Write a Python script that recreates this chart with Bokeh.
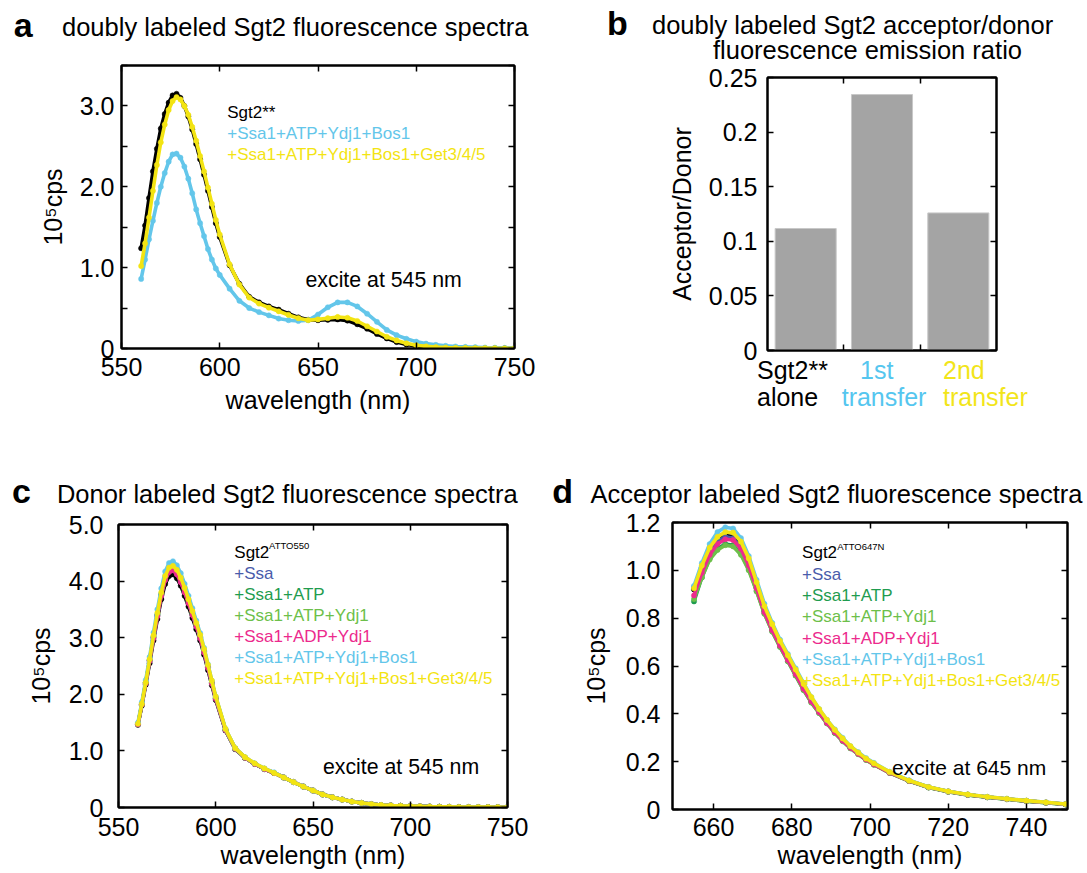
from bokeh.plotting import figure
from bokeh.layouts import column, row
from bokeh.models import FixedTicker, LinearAxis, Label, CustomJSTickFormatter, Range1d, Div
from bokeh.embed import file_html
from bokeh.resources import INLINE

FONT = "Liberation Sans"

# ---------------- data ----------------
# panel a: doubly labeled Sgt2 spectra (10^5 cps)
WL_A = [560, 562, 564, 566, 568, 570, 572, 574, 576, 578, 580, 582, 584, 586, 588, 590, 592, 594, 596, 598, 600,
        605, 610, 615, 620, 625, 630, 635, 640, 645, 650, 655, 660, 665, 670, 675, 680, 685, 690, 695, 700,
        705, 710, 715, 720, 725, 730, 735, 740, 745, 750]
A_SGT2 = [1.24, 1.52, 1.86, 2.19, 2.47, 2.72, 2.90, 3.04, 3.13, 3.15, 3.10, 3.00, 2.87, 2.71, 2.53, 2.34, 2.15, 1.95, 1.75, 1.55, 1.38,
          1.03, 0.80, 0.64, 0.57, 0.52, 0.48, 0.43, 0.385, 0.355, 0.35, 0.355, 0.36, 0.345, 0.30, 0.245, 0.18, 0.125, 0.08, 0.05, 0.03,
          0.02, 0.012, 0.008, 0.006, 0.005, 0.004, 0.003, 0.003, 0.002, 0.002]
A_BOS1 = [0.86, 1.10, 1.35, 1.58, 1.80, 2.00, 2.17, 2.31, 2.40, 2.41, 2.36, 2.25, 2.10, 1.92, 1.72, 1.55, 1.39, 1.23, 1.10, 0.99, 0.91,
          0.74, 0.59, 0.50, 0.45, 0.41, 0.37, 0.35, 0.34, 0.35, 0.42, 0.51, 0.57, 0.57, 0.52, 0.43, 0.33, 0.23, 0.165, 0.12, 0.085,
          0.06, 0.045, 0.033, 0.025, 0.02, 0.016, 0.012, 0.01, 0.008, 0.006]
A_GET = [1.02, 1.30, 1.62, 1.95, 2.27, 2.55, 2.77, 2.95, 3.06, 3.11, 3.08, 3.00, 2.89, 2.74, 2.57, 2.38, 2.19, 1.99, 1.79, 1.59, 1.41,
         1.04, 0.79, 0.63, 0.555, 0.505, 0.46, 0.415, 0.375, 0.35, 0.36, 0.375, 0.39, 0.38, 0.34, 0.275, 0.21, 0.145, 0.10, 0.065, 0.04,
         0.026, 0.018, 0.012, 0.009, 0.007, 0.006, 0.005, 0.004, 0.003, 0.003]
A_NAMES = ["Sgt2**", "+Ssa1+ATP+Ydj1+Bos1", "+Ssa1+ATP+Ydj1+Bos1+Get3/4/5"]

# panel b: acceptor/donor ratio
B_CATS = [("Sgt2**", "alone"), ("1st", "transfer"), ("2nd", "transfer")]
B_RATIO = [0.1117, 0.2344, 0.1260]

# panel c: donor labeled Sgt2 (10^5 cps), same wavelength grid as panel a
WL_C = WL_A
C_NAMES = ["Sgt2", "+Ssa", "+Ssa1+ATP", "+Ssa1+ATP+Ydj1", "+Ssa1+ADP+Ydj1", "+Ssa1+ATP+Ydj1+Bos1", "+Ssa1+ATP+Ydj1+Bos1+Get3/4/5"]
C_SGT2 = [1.46, 1.80, 2.17, 2.55, 2.95, 3.33, 3.68, 3.95, 4.09, 4.12, 4.05, 3.92, 3.74, 3.55, 3.35, 3.15, 2.95, 2.70, 2.43, 2.16, 1.90,
          1.36, 1.03, 0.88, 0.77, 0.68, 0.61, 0.53, 0.45, 0.37, 0.30, 0.23, 0.18, 0.14, 0.105, 0.08, 0.06, 0.045, 0.036, 0.03, 0.025,
          0.02, 0.016, 0.013, 0.011, 0.009, 0.008, 0.007, 0.006, 0.005, 0.004]
C_SSA = [1.47, 1.82, 2.20, 2.59, 3.00, 3.39, 3.75, 4.03, 4.17, 4.20, 4.13, 3.99, 3.81, 3.62, 3.41, 3.21, 3.00, 2.75, 2.47, 2.20, 1.93,
         1.37, 1.04, 0.88, 0.77, 0.68, 0.61, 0.53, 0.45, 0.37, 0.30, 0.23, 0.18, 0.14, 0.105, 0.08, 0.06, 0.045, 0.036, 0.03, 0.025,
         0.02, 0.016, 0.013, 0.011, 0.009, 0.008, 0.007, 0.006, 0.005, 0.004]
C_ATP = [1.47, 1.82, 2.20, 2.60, 3.01, 3.40, 3.76, 4.04, 4.18, 4.21, 4.14, 4.00, 3.82, 3.63, 3.42, 3.22, 3.01, 2.76, 2.48, 2.20, 1.93,
         1.37, 1.04, 0.88, 0.77, 0.68, 0.61, 0.53, 0.45, 0.37, 0.30, 0.23, 0.18, 0.14, 0.105, 0.08, 0.06, 0.045, 0.036, 0.03, 0.025,
         0.02, 0.016, 0.013, 0.011, 0.009, 0.008, 0.007, 0.006, 0.005, 0.004]
C_YDJ = [1.48, 1.83, 2.21, 2.61, 3.02, 3.41, 3.77, 4.05, 4.19, 4.22, 4.15, 4.01, 3.83, 3.64, 3.43, 3.23, 3.02, 2.77, 2.49, 2.21, 1.94,
         1.38, 1.04, 0.88, 0.77, 0.68, 0.61, 0.53, 0.45, 0.37, 0.30, 0.23, 0.18, 0.14, 0.105, 0.08, 0.06, 0.045, 0.036, 0.03, 0.025,
         0.02, 0.016, 0.013, 0.011, 0.009, 0.008, 0.007, 0.006, 0.005, 0.004]
C_ADP = [1.47, 1.82, 2.19, 2.59, 2.99, 3.38, 3.74, 4.02, 4.16, 4.19, 4.12, 3.98, 3.80, 3.61, 3.40, 3.20, 2.99, 2.74, 2.47, 2.19, 1.92,
         1.37, 1.04, 0.88, 0.77, 0.68, 0.61, 0.53, 0.45, 0.37, 0.30, 0.23, 0.18, 0.14, 0.105, 0.08, 0.06, 0.045, 0.036, 0.03, 0.025,
         0.02, 0.016, 0.013, 0.011, 0.009, 0.008, 0.007, 0.006, 0.005, 0.004]
C_BOS1 = [1.50, 1.86, 2.25, 2.66, 3.09, 3.50, 3.87, 4.17, 4.32, 4.35, 4.28, 4.14, 3.95, 3.74, 3.52, 3.30, 3.08, 2.82, 2.53, 2.24, 1.96,
          1.39, 1.05, 0.89, 0.78, 0.69, 0.62, 0.53, 0.45, 0.37, 0.30, 0.23, 0.18, 0.14, 0.105, 0.08, 0.06, 0.045, 0.036, 0.03, 0.025,
          0.02, 0.016, 0.013, 0.011, 0.009, 0.008, 0.007, 0.006, 0.005, 0.004]
C_GET = [1.48, 1.83, 2.21, 2.62, 3.04, 3.44, 3.80, 4.09, 4.24, 4.27, 4.20, 4.06, 3.88, 3.68, 3.47, 3.26, 3.05, 2.80, 2.52, 2.24, 1.96,
         1.39, 1.05, 0.89, 0.78, 0.69, 0.61, 0.53, 0.45, 0.37, 0.30, 0.23, 0.18, 0.14, 0.105, 0.08, 0.06, 0.045, 0.036, 0.03, 0.025,
         0.02, 0.016, 0.013, 0.011, 0.009, 0.008, 0.007, 0.006, 0.005, 0.004]

# panel d: acceptor labeled Sgt2 (10^5 cps)
WL_D = [655, 657, 659, 661, 663, 665, 667, 669, 671, 673, 675, 677, 679, 681, 683, 685, 687, 689, 691, 693, 695, 697, 699, 701,
        705, 710, 715, 720, 725, 730, 735, 740, 745, 750]
D_NAMES = C_NAMES
D_SGT2 = [0.92, 1.01, 1.08, 1.125, 1.145, 1.14, 1.10, 1.03, 0.93, 0.83, 0.755, 0.69, 0.63, 0.57, 0.51, 0.455, 0.41, 0.365, 0.325, 0.29, 0.26, 0.235, 0.21, 0.19,
          0.155, 0.12, 0.093, 0.075, 0.062, 0.052, 0.044, 0.036, 0.029, 0.022]
D_SSA = [0.93, 1.01, 1.08, 1.12, 1.14, 1.135, 1.095, 1.025, 0.928, 0.828, 0.752, 0.688, 0.628, 0.568, 0.508, 0.454, 0.408, 0.364, 0.324, 0.289, 0.259, 0.234, 0.21, 0.19,
         0.155, 0.12, 0.093, 0.075, 0.062, 0.052, 0.044, 0.036, 0.029, 0.022]
D_ATP = [0.87, 0.97, 1.05, 1.09, 1.11, 1.105, 1.07, 1.005, 0.915, 0.82, 0.745, 0.68, 0.62, 0.56, 0.50, 0.448, 0.404, 0.36, 0.32, 0.286, 0.256, 0.232, 0.208, 0.188,
         0.153, 0.119, 0.092, 0.074, 0.061, 0.051, 0.043, 0.035, 0.028, 0.021]
D_YDJ = [0.88, 0.97, 1.045, 1.085, 1.105, 1.10, 1.065, 1.00, 0.912, 0.818, 0.744, 0.68, 0.62, 0.56, 0.50, 0.447, 0.403, 0.36, 0.32, 0.286, 0.256, 0.231, 0.207, 0.187,
         0.153, 0.119, 0.092, 0.074, 0.061, 0.051, 0.043, 0.035, 0.028, 0.021]
D_ADP = [0.895, 0.99, 1.065, 1.11, 1.13, 1.127, 1.09, 1.02, 0.925, 0.825, 0.75, 0.685, 0.625, 0.565, 0.505, 0.452, 0.407, 0.362, 0.323, 0.288, 0.258, 0.233, 0.209, 0.189,
         0.154, 0.12, 0.093, 0.075, 0.062, 0.052, 0.044, 0.036, 0.029, 0.022]
D_BOS1 = [0.935, 1.03, 1.11, 1.16, 1.18, 1.175, 1.135, 1.06, 0.96, 0.86, 0.78, 0.71, 0.65, 0.59, 0.53, 0.47, 0.42, 0.375, 0.335, 0.30, 0.265, 0.24, 0.215, 0.195,
          0.158, 0.122, 0.094, 0.076, 0.063, 0.053, 0.045, 0.037, 0.03, 0.023]
D_GET = [0.925, 1.02, 1.095, 1.14, 1.16, 1.158, 1.12, 1.05, 0.95, 0.85, 0.775, 0.705, 0.645, 0.585, 0.525, 0.47, 0.42, 0.375, 0.333, 0.297, 0.265, 0.238, 0.213, 0.193,
         0.157, 0.121, 0.094, 0.076, 0.063, 0.053, 0.045, 0.037, 0.03, 0.023]

# tick values and labels
A_XTICKS = [550, 600, 650, 700, 750]
A_XLABELS = ["550", "600", "650", "700", "750"]
A_YTICKS = [0, 0.5, 1.0, 1.5, 2.0, 2.5, 3.0, 3.5]
A_YLABELS = ["0", "", "1.0", "", "2.0", "", "3.0", ""]
B_YTICKS = [0, 0.05, 0.1, 0.15, 0.2, 0.25]
B_YLABELS = ["0", "0.05", "0.1", "0.15", "0.2", "0.25"]
C_XTICKS = [550, 600, 650, 700, 750]
C_XLABELS = ["550", "600", "650", "700", "750"]
C_YTICKS = [0, 1, 2, 3, 4, 5]
C_YLABELS = ["0", "1.0", "2.0", "3.0", "4.0", "5.0"]
D_XTICKS = [660, 680, 700, 720, 740]
D_XLABELS = ["660", "680", "700", "720", "740"]
D_YTICKS = [0, 0.2, 0.4, 0.6, 0.8, 1.0, 1.2]
D_YLABELS = ["0", "0.2", "0.4", "0.6", "0.8", "1.0", "1.2"]

# ---------------- styles ----------------
BLACK = "#000000"
CYAN = "#63c6ea"
YELLOW = "#f3e412"
BLUE = "#4a5cab"
DKGREEN = "#1f9c4f"
LTGREEN = "#6dbf4a"
MAGENTA = "#ec2a8d"
BARGRAY = "#a4a4a4"

A_COLORS = [BLACK, CYAN, YELLOW]
B_COLORS = [BLACK, "#55c6ef", "#f2e51a"]
CD_COLORS = [BLACK, BLUE, DKGREEN, LTGREEN, MAGENTA, CYAN, YELLOW]


def fmt(vals, labs):
    return CustomJSTickFormatter(args=dict(vals=list(vals), labs=list(labs)), code="""
        for (let i = 0; i < vals.length; i++) {
            if (Math.abs(vals[i] - tick) < 1e-9) return labs[i];
        }
        return "";
    """)


def blank():
    return CustomJSTickFormatter(code="return '';")


def make_fig(w, h, xr, yr, mb):
    p = figure(width=w, height=h, x_range=Range1d(*xr), y_range=Range1d(*yr),
               min_border_left=mb[0], min_border_right=mb[1], min_border_top=mb[2], min_border_bottom=mb[3],
               toolbar_location=None, tools="", output_backend="svg")
    p.xgrid.visible = False
    p.ygrid.visible = False
    p.outline_line_color = "black"
    p.outline_line_width = 2
    p.background_fill_color = "white"
    p.border_fill_color = "white"
    return p


def style_axis(ax, ticks, formatter, standoff, label=None, label_standoff=0):
    ax.ticker = FixedTicker(ticks=list(ticks), minor_ticks=[])
    ax.formatter = formatter
    ax.major_tick_in = 6
    ax.major_tick_out = 0
    ax.minor_tick_in = 0
    ax.minor_tick_out = 0
    ax.major_tick_line_width = 1.5
    ax.axis_line_width = 2
    ax.major_label_text_font = FONT
    ax.major_label_text_font_size = "25px"
    ax.major_label_text_color = "black"
    ax.major_label_standoff = standoff
    if label is not None:
        ax.axis_label = label
        ax.axis_label_text_font = FONT
        ax.axis_label_text_font_size = "25px"
        ax.axis_label_text_font_style = "normal"
        ax.axis_label_text_color = "black"
        ax.axis_label_standoff = label_standoff


def mirror(p, ticks, loc):
    ax = LinearAxis()
    style_axis(ax, ticks, blank(), 0)
    ax.major_label_text_font_size = "1px"
    p.add_layout(ax, loc)


def txt(p, x, y, text, size, color="black"):
    # text inside the plotting frame; x, y in px from the frame's bottom-left corner
    p.add_layout(Label(x=x, y=y, x_units="screen", y_units="screen", text=text, text_font=FONT,
                       text_font_size=size, text_color=color, text_align="left", text_baseline="alphabetic"))


def spectrum(p, x, y, color):
    p.line(x, y, line_color=color, line_width=3.6)
    p.scatter(x, y, marker="circle", size=5.2, fill_color=color, line_color=color, line_width=0.5)


LH = 0.6


def span(x, base, text, size, color="black", bold=False):
    top = base - (LH / 2 + 0.3465) * size
    weight = "bold" if bold else "normal"
    return ('<span style="position:absolute;left:%.1fpx;top:%.1fpx;font-family:\'Liberation Sans\',Arial,sans-serif;'
            'font-size:%spx;font-weight:%s;line-height:%s;color:%s;white-space:nowrap;">%s</span>'
            % (x, top, size, weight, LH, color, text))


def text_div(w, h, spans):
    html = ('<div style="position:relative;width:%dpx;height:%dpx;">' % (w, h)) + "".join(spans) + "</div>"
    return Div(text=html, width=w, height=h, margin=0, styles={"overflow": "visible"})


# ---------------- panel a ----------------
pa = make_fig(560, 388, (550, 750), (0, 3.5), (121, 46, 13, 92))
style_axis(pa.xaxis[0], A_XTICKS, fmt(A_XTICKS, A_XLABELS), 9, "wavelength (nm)", 7)
style_axis(pa.yaxis[0], A_YTICKS, fmt(A_YTICKS, A_YLABELS), 7, "10\u2075cps", 10)
mirror(pa, A_XTICKS, "above")
mirror(pa, A_YTICKS, "right")
for ys, c in zip([A_SGT2, A_BOS1, A_GET], A_COLORS):
    spectrum(pa, WL_A, ys, c)
for i, (name, c) in enumerate(zip(A_NAMES, A_COLORS)):
    txt(pa, 105.7, 236.3 - 21.2 * i, name, "17px", color=c)
txt(pa, 184, 68.7, "excite at 545 nm", "21.3px")
div_a = text_div(560, 52, [span(13.8, 36.7, "a", 34, bold=True),
                           span(62, 36.7, "doubly labeled Sgt2 fluorescence spectra", 25.5)])

# ---------------- panel b ----------------
xb = list(range(1, len(B_CATS) + 1))
pb = make_fig(527, 303, (0.5, len(B_CATS) + 0.5), (0, 0.25), (207, 91, 17, 13))
bticks = [i + 0.5 for i in xb[:-1]]
style_axis(pb.xaxis[0], bticks, blank(), 0)
pb.xaxis[0].major_label_text_font_size = "1px"
style_axis(pb.yaxis[0], B_YTICKS, fmt(B_YTICKS, B_YLABELS), 10, "Acceptor/Donor", 10)
mirror(pb, bticks, "above")
mirror(pb, B_YTICKS, "right")
pb.vbar(x=xb, top=B_RATIO, width=0.8, fill_color=BARGRAY, line_color="#c8c8c8", line_width=1)
div_b = text_div(527, 60, [span(47, 35, "b", 34, bold=True),
                           span(92, 34, "doubly labeled Sgt2 acceptor/donor", 25.5),
                           span(153, 59.3, "fluorescence emission ratio", 25.5)])
# category labels: page y of div top is 363
cat_x = [(197, 197), (300, 281.7), (383, 383)]
cat_spans = []
for (l1, l2), c, (x1, x2) in zip(B_CATS, B_COLORS, cat_x):
    cat_spans.append(span(x1, 16.4, l1, 25, color=c))
    cat_spans.append(span(x2, 43.2, l2, 25, color=c))
div_bcat = text_div(527, 77, cat_spans)

# ---------------- panel c ----------------
pc = make_fig(545, 362, (550, 750), (0, 5), (118, 38, 14, 65))
style_axis(pc.xaxis[0], C_XTICKS, fmt(C_XTICKS, C_XLABELS), 10, "wavelength (nm)", 2)
style_axis(pc.yaxis[0], C_YTICKS, fmt(C_YTICKS, C_YLABELS), 15, "10\u2075cps", 11)
mirror(pc, C_XTICKS, "above")
mirror(pc, C_YTICKS, "right")
for ys, c in zip([C_SGT2, C_SSA, C_ATP, C_YDJ, C_ADP, C_BOS1, C_GET], CD_COLORS):
    spectrum(pc, WL_C, ys, c)
for i, (name, c) in enumerate(zip(C_NAMES, CD_COLORS)):
    txt(pc, 115.8, 255.3 - 21.1 * i, name, "17px", color=c)
txt(pc, 150.5, 262, "ATTO550", "9.5px")
txt(pc, 204.4, 40.3, "excite at 545 nm", "21.3px")
div_c = text_div(545, 70, [span(12, 63.3, "c", 34, bold=True),
                           span(56.9, 63.3, "Donor labeled Sgt2 fluorescence spectra", 25.5)])

# ---------------- panel d ----------------
pd_ = make_fig(542, 362, (649.5, 750.5), (0, 1.2), (127, 20, 12, 63))
style_axis(pd_.xaxis[0], D_XTICKS, fmt(D_XTICKS, D_XLABELS), 8, "wavelength (nm)", 2)
style_axis(pd_.yaxis[0], D_YTICKS, fmt(D_YTICKS, D_YLABELS), 12, "10\u2075cps", 13)
mirror(pd_, D_XTICKS, "above")
mirror(pd_, D_YTICKS, "right")
for ys, c in zip([D_SGT2, D_SSA, D_ATP, D_YDJ, D_ADP, D_BOS1, D_GET], CD_COLORS):
    spectrum(pd_, WL_D, ys, c)
for i, (name, c) in enumerate(zip(D_NAMES, CD_COLORS)):
    txt(pd_, 129.6, 256.7 - 21.3 * i, name, "17px", color=c)
txt(pd_, 164.8, 263, "ATTO647N", "9.5px")
txt(pd_, 219.6, 42.3, "excite at 645 nm", "21px")
div_d = text_div(542, 70, [span(7.2, 63.3, "d", 34, bold=True),
                           span(45.6, 63.3, "Acceptor labeled Sgt2 fluorescence spectra", 25.5)])

layout = column(
    row(column(div_a, pa), column(div_b, pb, div_bcat)),
    row(column(div_c, pc), column(div_d, pd_)),
)
open("out.html", "w").write(file_html(layout, INLINE))
